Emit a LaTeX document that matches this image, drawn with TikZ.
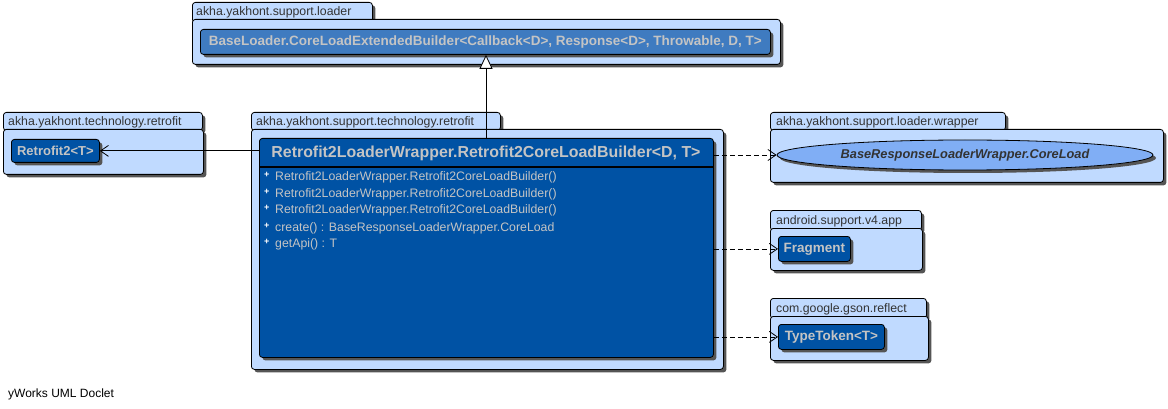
\documentclass[tikz,border=0pt]{standalone}
\usepackage{fontspec}
\setmainfont{Liberation Sans}
\usetikzlibrary{arrows.meta,shadows,shapes.geometric}
\definecolor{pkgfill}{HTML}{C0DAFF}
\definecolor{clsfill}{HTML}{0052A4}
\definecolor{clsfilltwo}{HTML}{3F7BC0}
\definecolor{clstext}{HTML}{C4C4C4}
\definecolor{ellfill}{HTML}{80AEF5}
\definecolor{shadowc}{HTML}{555555}
\definecolor{pkgtext}{HTML}{333333}
\tikzset{
  shad/.style={drop shadow={shadow xshift=3pt,shadow yshift=-3pt,fill=shadowc,opacity=1}},
  pkgtab/.style={draw=black,fill=pkgfill,rounded corners=3pt,shad,anchor=north west,inner sep=0pt,line width=0.8pt},
  pkgbody/.style={draw=black,fill=pkgfill,rounded corners=3pt,shad,anchor=north west,inner sep=0pt,line width=0.8pt},
  pkglabel/.style={anchor=base west,text=pkgtext,font=\fontsize{12.3}{14}\selectfont,inner sep=0pt},
  cls/.style={draw=black,fill=clsfill,rounded corners=3pt,shad,inner sep=0pt,text=clstext,font=\fontsize{13.5}{15}\selectfont\bfseries,line width=0.8pt},
  member/.style={anchor=base west,text=clstext,font=\fontsize{12.3}{14}\selectfont,inner sep=0pt},
  plus/.style={anchor=base west,text=white,font=\fontsize{9}{10}\selectfont\bfseries,inner sep=0pt},
  assoc/.style={draw=black,line width=0.8pt,-{Straight Barb[length=8pt,width=11pt]}},
  dep/.style={draw=black,line width=0.8pt,dash pattern=on 5pt off 3pt,-{Straight Barb[length=8pt,width=11pt]}},
  gen/.style={draw=black,line width=0.8pt,-{Triangle[open,length=14pt,width=13pt,fill=white]}},
}
\begin{document}
\begin{tikzpicture}[x=1pt,y=-1pt]
\useasboundingbox (0,0) rectangle (1168,409);
% package akha.yakhont.support.loader
\node[pkgtab,minimum width=180pt,minimum height=20pt] (t1) at (192,2) {};
\node[pkgbody,minimum width=588pt,minimum height=45pt] (p1) at (192,19) {};
\node[pkglabel] (l1) at (196,15.5) {akha.yakhont.support.loader};
\node[cls,fill=clsfilltwo,minimum width=570pt,minimum height=25pt,anchor=north west,font=\fontsize{13.5}{15}\selectfont\bfseries] (base) at (200,29) {BaseLoader.CoreLoadExtendedBuilder<Callback<D>, Response<D>, Throwable, D, T>};
% package akha.yakhont.technology.retrofit
\node[pkgtab,minimum width=199pt,minimum height=18pt] (t2) at (3,112) {};
\node[pkgbody,minimum width=200pt,minimum height=45pt] (p2) at (3,129) {};
\node[pkglabel] (l2) at (8,125.5) {akha.yakhont.technology.retrofit};
\node[cls,minimum width=88pt,minimum height=23pt,anchor=north west,font=\fontsize{13}{15}\selectfont\bfseries] (retro) at (11,139) {Retrofit2<T>};
% package akha.yakhont.support.technology.retrofit
\node[pkgtab,minimum width=249pt,minimum height=18pt] (t3) at (251,112) {};
\node[pkgbody,minimum width=472pt,minimum height=240pt] (p3) at (251,129) {};
\node[pkglabel] (l3) at (256,125.5) {akha.yakhont.support.technology.retrofit};
\node[cls,minimum width=454pt,minimum height=219pt,anchor=north west] (main) at (259,138) {};
\node[text=clstext,font=\fontsize{15.9}{18}\selectfont\bfseries,inner sep=0pt] (title) at (486,153) {Retrofit2LoaderWrapper.Retrofit2CoreLoadBuilder<D, T>};
\draw[line width=1.6pt] (main.west |- 0,167) -- (main.east |- 0,167);
\foreach \yy/\txt [count=\i] in {181/Retrofit2LoaderWrapper.Retrofit2CoreLoadBuilder(),197/Retrofit2LoaderWrapper.Retrofit2CoreLoadBuilder(),214/Retrofit2LoaderWrapper.Retrofit2CoreLoadBuilder(),231/{create() : BaseResponseLoaderWrapper.CoreLoad},247/{getApi() : T}}{
  \node[plus] (p\i) at (264,\yy-3) {+};
  \node[member] (m\i) at (275,\yy) {\txt};
}
% package akha.yakhont.support.loader.wrapper
\node[pkgtab,minimum width=235pt,minimum height=18pt] (t4) at (770,112) {};
\node[pkgbody,minimum width=393pt,minimum height=53pt] (p4) at (770,129) {};
\node[pkglabel] (l4) at (776,125.5) {akha.yakhont.support.loader.wrapper};
\node[ellipse,draw=black,fill=ellfill,line width=0.8pt,shad,minimum width=376pt,minimum height=30pt,inner sep=0pt,text=pkgtext,font=\fontsize{12.8}{14}\selectfont\bfseries\itshape] (ell) at (965,155) {BaseResponseLoaderWrapper.CoreLoad};
% package android.support.v4.app
\node[pkgtab,minimum width=151pt,minimum height=20pt] (t5) at (770,210) {};
\node[pkgbody,minimum width=152pt,minimum height=42pt] (p5) at (770,228) {};
\node[pkglabel] (l5) at (776,224.5) {android.support.v4.app};
\node[cls,minimum width=72pt,minimum height=25pt,anchor=north west] (frag) at (778,236) {Fragment};
% package com.google.gson.reflect
\node[pkgtab,minimum width=156pt,minimum height=20pt] (t6) at (770,298) {};
\node[pkgbody,minimum width=158pt,minimum height=44pt] (p6) at (770,316) {};
\node[pkglabel] (l6) at (776,312.5) {com.google.gson.reflect};
\node[cls,minimum width=106pt,minimum height=25pt,anchor=north west] (tt) at (778,324) {TypeToken<T>};
% connectors
\coordinate (g) at (486,0);
\draw[gen] (g |- main.north) -- (g |- base.south);
\draw[assoc] (main.west |- retro.east) -- (retro.east);
\draw[dep] (main.east |- ell.west) -- (ell.west);
\draw[dep] (main.east |- frag.east) -- (frag.west);
\draw[dep] (main.east |- tt.east) -- (tt.west);
% footer
\node[anchor=base west,inner sep=0pt,font=\fontsize{12}{14}\selectfont] (foot) at (8,397) {yWorks UML Doclet};
\end{tikzpicture}
\end{document}
